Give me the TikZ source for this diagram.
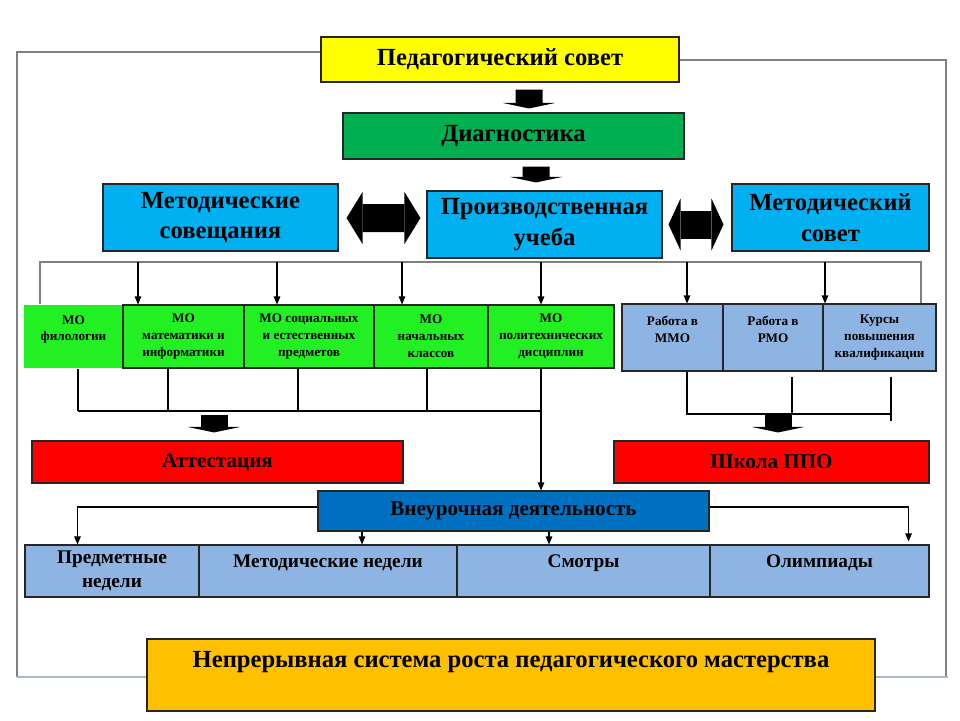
\documentclass[tikz,border=0pt]{standalone}
\usepackage{fontspec}
\setmainfont{Liberation Serif}
\usetikzlibrary{arrows.meta,calc}
\definecolor{sovyellow}{HTML}{FFFF00}
\definecolor{diaggreen}{HTML}{00B050}
\definecolor{skyblue}{HTML}{00B0F0}
\definecolor{mogreen}{HTML}{22F022}
\definecolor{greyblue}{HTML}{8EB4E3}
\definecolor{attred}{HTML}{FF0000}
\definecolor{vnblue}{HTML}{0070C0}
\definecolor{contorange}{HTML}{FFC000}
\definecolor{framegrey}{HTML}{808080}
\definecolor{framebottom}{HTML}{A8B8C8}
\begin{document}
\begin{tikzpicture}[x=0.02cm,y=-0.02cm,
    box/.style={draw=black!85,line width=0.6pt,inner sep=0pt,align=center,font=\bfseries},
    sz/.style 2 args={minimum width=#1*0.02cm,minimum height=#2*0.02cm},
    bigf/.style={font=\fontsize{14}{17.5}\selectfont\bfseries},
    midf/.style={font=\fontsize{12}{14}\selectfont\bfseries},
    lowf/.style={font=\fontsize{11}{13.6}\selectfont\bfseries},
    smallf/.style={font=\fontsize{7.5}{9.6}\selectfont\bfseries},
    arr/.style={line width=0.6pt,-{Triangle[length=0.16cm,width=0.13cm]}},
    ln/.style={line width=0.6pt},
    fatdown/.style={line width=0.54cm,-{Triangle[length=0.11cm,width=1.04cm,line width=0pt]}},
    fatboth/.style={line width=0.56cm,{Triangle[length=#1,width=1.04cm,line width=0pt]}-{Triangle[length=#1,width=1.04cm,line width=0pt]}}]
    \useasboundingbox (0,0) rectangle (960,720);
    %% Frame
    \draw[framegrey,line width=0.8pt] (321,52) -- (17,52) -- (17,677);
    \draw[framegrey,line width=0.8pt] (679,60) -- (946,60) -- (946,677);
    \draw[framebottom,line width=1.2pt] (17,677) -- (948,677);
    %% Boxes
    \node[box,bigf,fill=sovyellow,sz={358}{45}] (ped) at (500,59.5) {Педагогический совет};
    \node[box,bigf,fill=diaggreen,sz={341}{46}] (diag) at (513.5,136) {Диагностика};
    \node[box,bigf,fill=skyblue,sz={235}{67}] (sov) at (220.5,217.5) {Методические\\совещания};
    \node[box,bigf,fill=skyblue,sz={235}{67}] (uch) at (544.5,224.5) {Производственная\\учеба};
    \node[box,bigf,fill=skyblue,sz={197}{67}] (msov) at (830.5,217.5) {Методический\\совет};
    \node[box,smallf,draw=none,fill=mogreen,sz={99}{63}] (mfil) at (73.5,336.5) {МО\\филологии\\~};
    \node[box,smallf,fill=mogreen,sz={121}{63}] (mmat) at (183.5,336.5) {МО\\математики и\\информатики};
    \node[box,smallf,fill=mogreen,sz={130}{63}] (msoc) at (309,336.5) {МО социальных\\и естественных\\предметов};
    \node[box,smallf,fill=mogreen,sz={114}{63}] (mnach) at (431,336.5) {МО\\начальных\\классов};
    \node[box,smallf,fill=mogreen,sz={126}{63}] (mpol) at (551,336.5) {МО\\политехнических\\дисциплин};
    \node[box,smallf,fill=greyblue,sz={101}{67}] (mmmo) at (672.5,337.5) {Работа в\\ММО\\~};
    \node[box,smallf,fill=greyblue,sz={100}{67}] (mrmo) at (773,337.5) {Работа в\\РМО\\~};
    \node[box,smallf,fill=greyblue,sz={113}{67}] (kurs) at (879.5,337.5) {Курсы\\повышения\\квалификации};
    \node[box,midf,fill=attred,sz={371}{42}] (att) at (217.5,462) {Аттестация};
    \node[box,midf,fill=attred,sz={315}{42}] (shk) at (771.5,462) {Школа ППО};
    \node[box,midf,fill=vnblue,sz={391}{40}] (vn) at (513.5,511) {Внеурочная деятельность};
    \node[box,lowf,fill=greyblue,sz={174}{52}] (pr) at (112,571) {Предметные\\недели};
    \node[box,lowf,fill=greyblue,sz={258}{52},text height=8pt,text depth=12.5pt] (mn) at (328,571) {Методические недели};
    \node[box,lowf,fill=greyblue,sz={253}{52},text height=8pt,text depth=12.5pt] (sm) at (583.5,571) {Смотры};
    \node[box,lowf,fill=greyblue,sz={219}{52},text height=8pt,text depth=12.5pt] (ol) at (819.5,571) {Олимпиады};
    \node[box,bigf,fill=contorange,sz={728}{72},text height=10pt,text depth=19pt] (cont) at (511,675) {Непрерывная система роста педагогического мастерства};
    %% Thick arrows
    \draw[fatdown] ($(ped.south)+(29,7)$) -- ($(diag.north)+(15.5,-4)$);
    \draw[fatdown] ($(diag.south)+(22.5,7)$) -- ($(uch.north)+(-8.5,-8)$);
    \draw[fatboth=0.32cm] ($(sov.east)+(8,0.5)$) -- ($(uch.west)+(-6,-6.5)$);
    \draw[fatboth=0.24cm] ($(uch.east)+(6,0)$) -- ($(msov.west)+(-8,7)$);
    %% Rail to the MO row
    \coordinate (railw) at (40,262);
    \coordinate (raile) at (921,262);
    \draw[framegrey,line width=0.8pt] (railw |- mfil.north) -- (railw) -- (raile) -- (raile |- kurs.north);
    \foreach \x/\n in {138/mmat,277/msoc,402/mnach,541/mpol,687/mmmo,825/kurs}
        \draw[arr] (\x,0 |- railw) -- (\x,0 |- \n.north);
    %% Buses under the MO row
    \coordinate (lbus) at (0,411);
    \coordinate (rbus) at (0,414);
    \foreach \x/\n in {78/mfil,168/mmat,298/msoc,427/mnach}
        \draw[ln] (\x,0 |- \n.south) -- (\x,0 |- lbus);
    \draw[ln] (78,0 |- lbus) -- (541,0 |- lbus);
    \draw[arr] ($(mpol.south)+(-10,0)$) -- ($(mpol.south |- vn.north)+(-10,0)$);
    \draw[ln] (687,0 |- mmmo.south) -- (687,0 |- rbus) -- (891,0 |- rbus);
    \draw[ln] ($(mrmo.south)+(19,5)$) -- (792,0 |- rbus);
    \draw[ln] ($(kurs.south)+(11.5,5)$) -- ($(kurs.south)+(11.5,49)$);
    \draw[fatdown] ($(att.north)+(-3.5,-25)$) -- ($(att.north)+(-3.5,-8)$);
    \draw[fatdown] ($(shk.north)+(6.5,-27)$) -- ($(shk.north)+(6.5,-8)$);
    %% Vneurochnaya
    \draw[arr] ($(vn.west)+(0,-4)$) -| ($(pr.north west)+(53,0)$);
    \draw[arr] ($(vn.east)+(0,-4)$) -| ($(ol.north east)+(-21,-3)$);
    \draw[arr] (362,0 |- vn.south) -- (362,0 |- mn.north);
    \draw[arr] (549,0 |- vn.south) -- (549,0 |- sm.north);
\end{tikzpicture}
\end{document}
